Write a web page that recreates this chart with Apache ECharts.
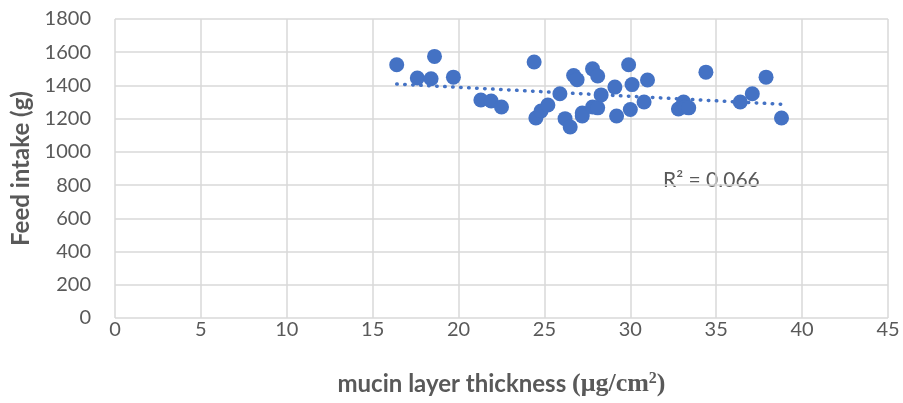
<!DOCTYPE html>
<html>
<head>
<meta charset="utf-8">
<script src="https://cdn.jsdelivr.net/npm/echarts@6/dist/echarts.min.js"></script>
<style>
  html, body { margin: 0; padding: 0; background: #fff; }
  #chart { width: 903px; height: 403px; }
</style>
</head>
<body>
<div id="chart"></div>
<script>
// mucin layer thickness (x) vs feed intake (y)
const thickness = [16.4, 17.6, 18.6, 18.4, 19.7, 21.3, 21.9, 22.5, 24.4, 24.5,
  24.8, 25.2, 25.9, 26.2, 26.5, 26.7, 26.9, 27.2, 27.2, 27.8, 28.1, 27.8, 28.1,
  28.3, 29.1, 29.2, 29.9, 30.1, 30.0, 30.8, 31.0, 32.8, 33.1, 33.2, 33.4, 34.4,
  36.4, 37.1, 37.9, 38.8]
const feedIntake = [1525, 1445, 1575, 1440, 1450, 1312, 1306, 1270, 1541, 1204,
  1246, 1282, 1350, 1200, 1150, 1460, 1435, 1216, 1234, 1500, 1457, 1270, 1265,
  1343, 1390, 1216, 1525, 1405, 1255, 1300, 1433, 1258, 1300, 1270, 1265, 1480,
  1300, 1350, 1450, 1204]
const xTicks = { min: 0, max: 45, step: 5 }
const yTicks = { min: 0, max: 1800, step: 200 }
const r2Label = 'R² = 0.066'

const points = thickness.map((x, i) => [x, feedIntake[i]])

// linear trendline (least squares), like the spreadsheet one
function trend(xs, ys) {
  const n = xs.length
  let sx = 0, sy = 0, sxx = 0, sxy = 0
  for (let i = 0; i < n; i++) {
    sx += xs[i]; sy += ys[i]; sxx += xs[i] * xs[i]; sxy += xs[i] * ys[i]
  }
  const b = (n * sxy - sx * sy) / (n * sxx - sx * sx)
  const a = (sy - b * sx) / n
  const x0 = Math.min(...xs), x1 = Math.max(...xs)
  return [[x0, a + b * x0], [x1, a + b * x1]]
}

const grey = '#595959'
const blue = '#4472C4'
const font = 'Lato'

const chart = echarts.init(document.getElementById('chart'))
chart.setOption({
  animation: false,
  grid: { left: 115, right: 15, top: 19, bottom: 85 },
  xAxis: {
    type: 'value',
    min: xTicks.min, max: xTicks.max, interval: xTicks.step,
    axisLine: { show: false },
    axisTick: { show: false },
    splitLine: { lineStyle: { color: '#d9d9d9', width: 1.5 } },
    axisLabel: { color: grey, fontSize: 20, fontFamily: font, margin: 2, formatter: v => String(v) },
    name: '{a|mucin layer thickness }{b|(μg/cm}{c|2}{b|)}',
    nameLocation: 'middle',
    nameGap: 53,
    nameTextStyle: {
      rich: {
        a: { fontSize: 24, fontWeight: 'bold', color: grey, fontFamily: font },
        b: { fontSize: 26, fontWeight: 'bold', color: grey, fontFamily: 'Liberation Serif' },
        c: { fontSize: 16, fontWeight: 'bold', color: grey, fontFamily: 'Liberation Serif', verticalAlign: 'top', padding: [0, 0, 10, 0] }
      }
    }
  },
  yAxis: {
    type: 'value',
    min: yTicks.min, max: yTicks.max, interval: yTicks.step,
    axisLine: { show: false },
    axisTick: { show: false },
    splitLine: { lineStyle: { color: '#d9d9d9', width: 1.5 } },
    axisLabel: { color: grey, fontSize: 20, fontFamily: font, margin: 24, formatter: v => String(v) },
    name: 'Feed intake (g)',
    nameLocation: 'middle',
    nameGap: 80,
    nameTextStyle: { color: grey, fontSize: 24, fontWeight: 'bold', fontFamily: font }
  },
  graphic: [{
    type: 'text',
    left: 663, top: 170,
    style: { text: r2Label, fill: grey, fontSize: 21, fontFamily: font }
  }],
  series: [
    {
      type: 'line',
      data: trend(thickness, feedIntake),
      symbol: 'none',
      lineStyle: { color: blue, width: 3.5, type: [0.5, 7.5], cap: 'round' },
      z: 1
    },
    {
      type: 'scatter',
      data: points,
      symbolSize: 15,
      itemStyle: { color: blue, opacity: 1 },
      z: 2
    }
  ]
})
</script>
</body>
</html>
